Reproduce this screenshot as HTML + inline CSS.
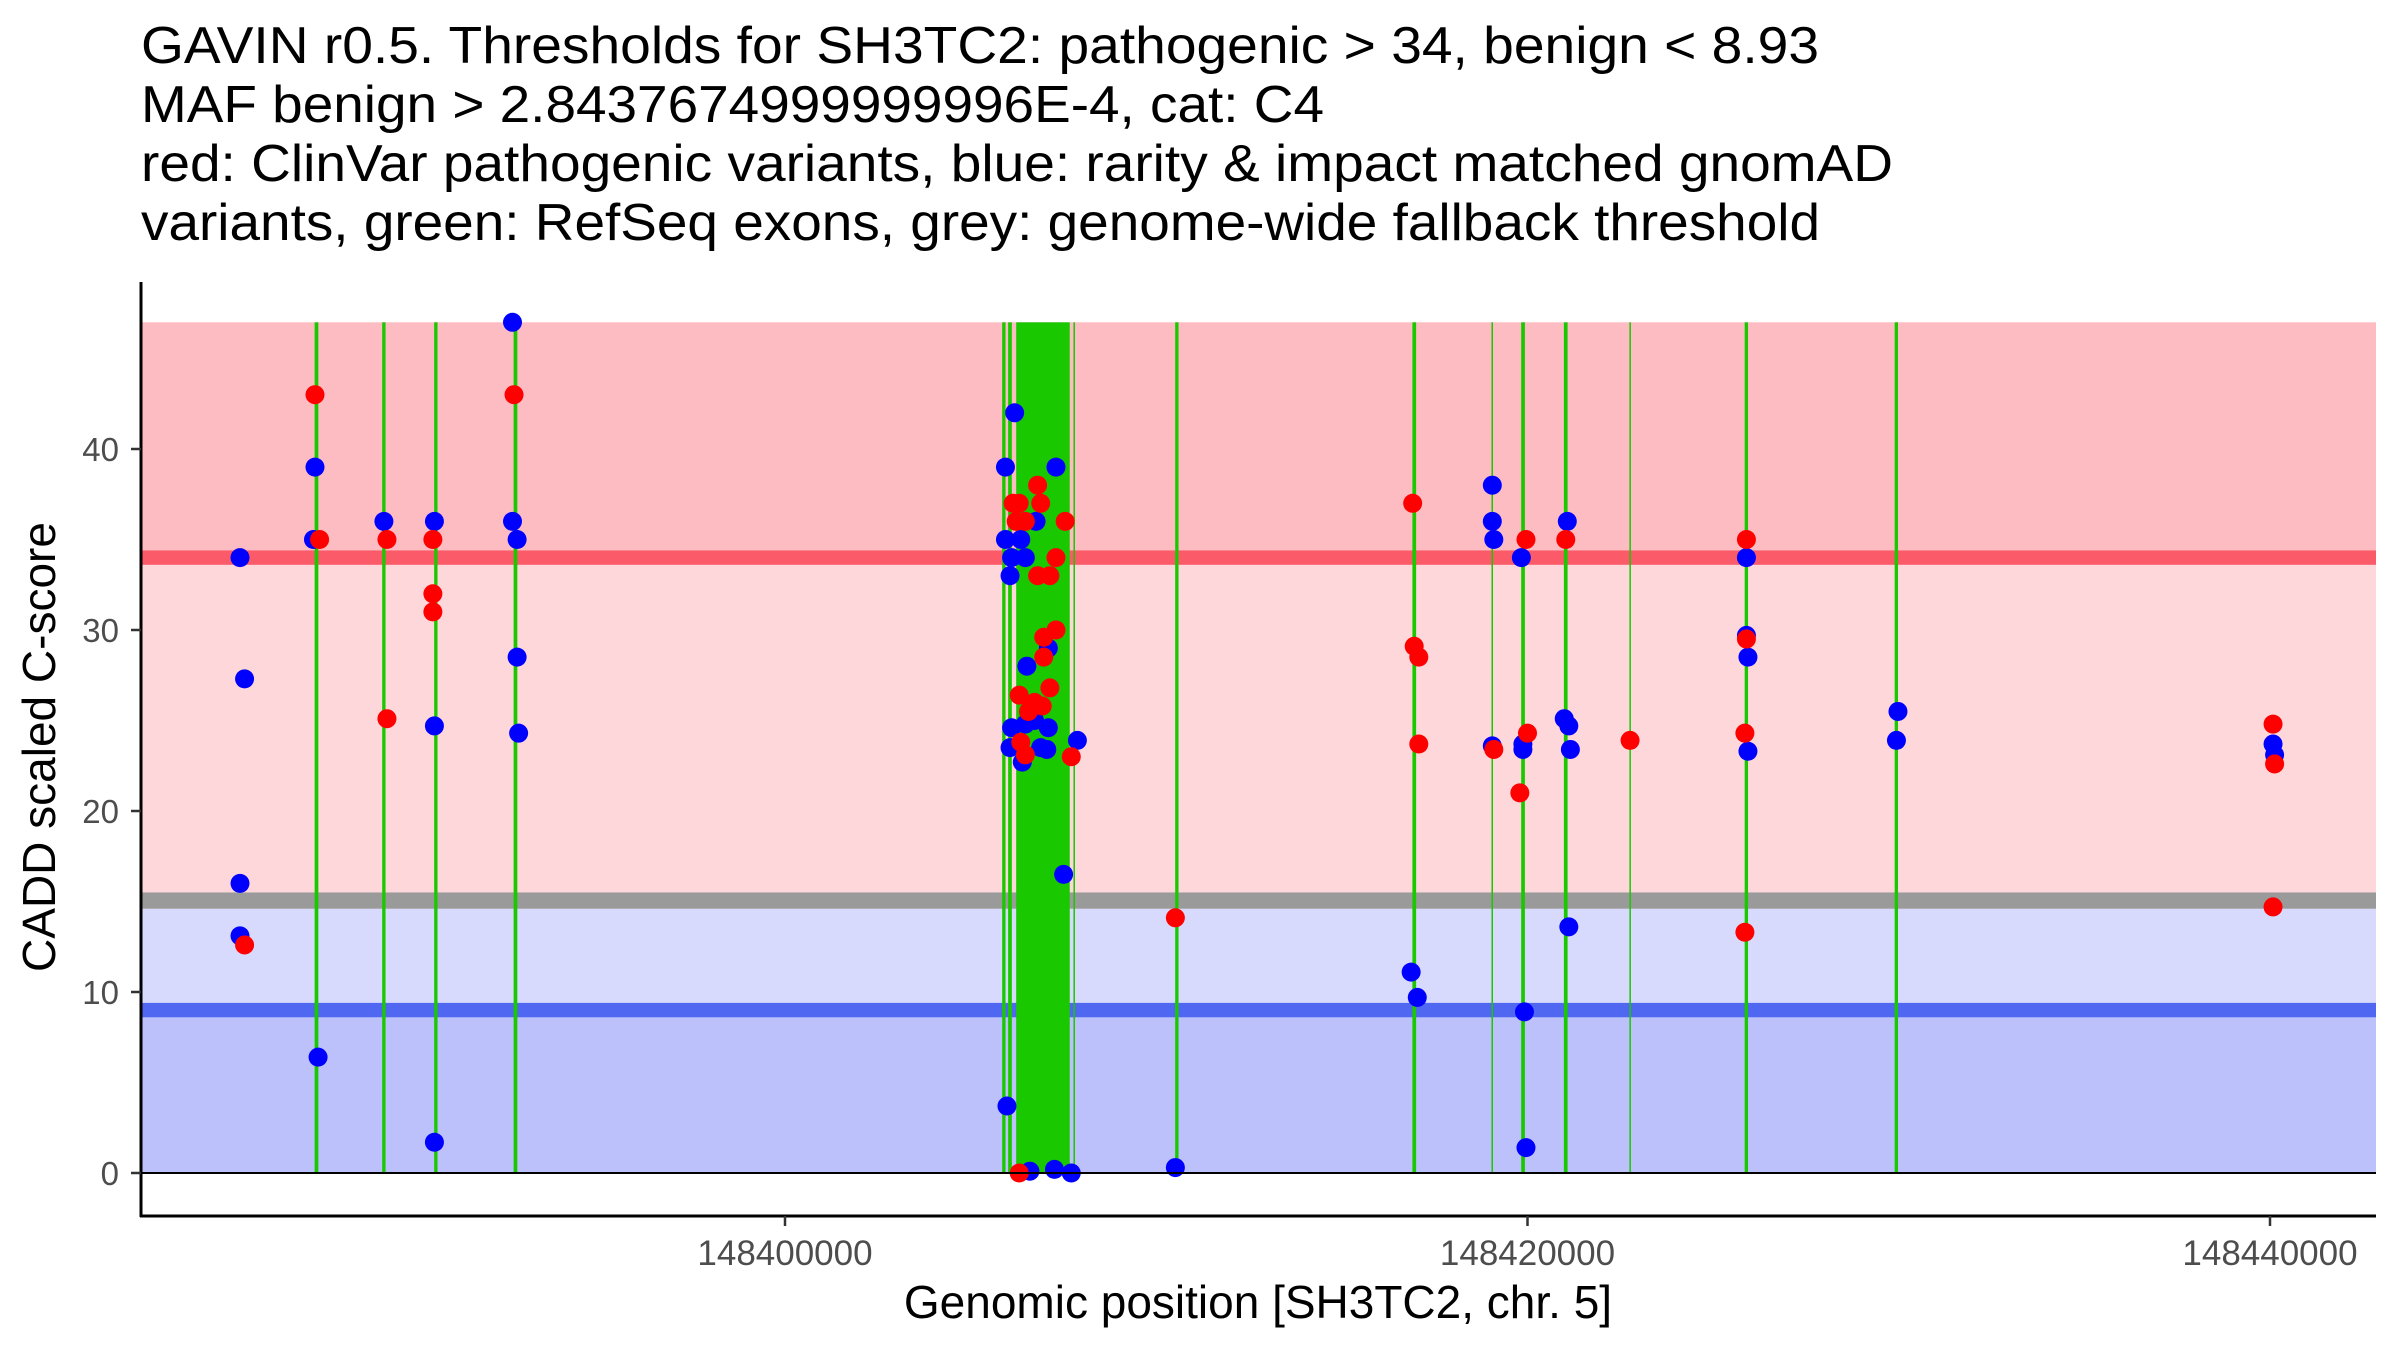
<!DOCTYPE html>
<html><head><meta charset="utf-8"><style>
html,body{margin:0;padding:0;background:#fff;}
svg{display:block;font-family:"Liberation Sans",sans-serif;}
</style></head><body>
<svg id="chart" width="2400" height="1350" viewBox="0 0 2400 1350" xmlns="http://www.w3.org/2000/svg">
<g font-size="52" fill="#000">
<text x="141" y="63" textLength="1678" lengthAdjust="spacingAndGlyphs">GAVIN r0.5. Thresholds for SH3TC2: pathogenic &gt; 34, benign &lt; 8.93</text>
<text x="141" y="122" textLength="1183" lengthAdjust="spacingAndGlyphs">MAF benign &gt; 2.8437674999999996E-4, cat: C4</text>
<text x="141" y="181" textLength="1752" lengthAdjust="spacingAndGlyphs">red: ClinVar pathogenic variants, blue: rarity &amp; impact matched gnomAD</text>
<text x="141" y="240" textLength="1679" lengthAdjust="spacingAndGlyphs">variants, green: RefSeq exons, grey: genome-wide fallback threshold</text>
</g>
<g id="bands"></g>
<g id="exons"></g>
<g id="points"></g>
<g id="axes"></g>
<text x="1258" y="1318" text-anchor="middle" font-size="46" fill="#000">Genomic position [SH3TC2, chr. 5]</text>
<text transform="translate(55,747) rotate(-90)" text-anchor="middle" font-size="46" fill="#000">CADD scaled C-score</text>
</svg>
<script>
const xTicks = [148400000, 148420000, 148440000];
const yTicks = [0, 10, 20, 30, 40];
const exonStart = [148387330,148389150,148390550,148392690,148405850,148406010,148406227,148407770,148410510,148416900,148419030,148419830,148420980,148422745,148425850,148429890];
const exonEnd   = [148387430,148389240,148390640,148392790,148405940,148406110,148407670,148407810,148410600,148417000,148419070,148419930,148421080,148422780,148425940,148429980];
const blueX = [148385320,148385443,148385320,148385320,148387340,148387299,148387423,148389196,148390557,148390557,148390557,148392660,148392660,148392784,148392784,148392825,
148405938,148406186,148405938,148406351,148406103,148406062,148406474,148407299,148406763,148406515,148407093,148406103,148406474,148406722,148406062,148406392,148406887,148407052,148407505,148407876,148405979,148406598,148407258,148407711,148407093,
148410515,148416866,148417031,148419052,148419052,148419093,148419052,148419835,148419876,148419918,148419959,148419876,
148421072,148420990,148421113,148421155,148421113,148425897,148425897,148425938,148425938,148429979,148429938,148440082,148440124];
const blueY = [34.0,27.3,16.0,13.1,39,35,6.4,36,36,24.7,1.7,47,36,35,28.5,24.3,
39,42,35,35,34,33,34,39,36,28,29,24.6,24.8,25,23.5,22.7,23.5,23.4,16.5,23.9,3.7,0.1,0.2,0,24.6,
0.3,11.1,9.7,38,36,35,23.6,34,23.4,8.9,1.4,23.7,
36,25.1,24.7,23.4,13.6,34,29.7,28.5,23.3,25.5,23.9,23.7,23.1];
const redX = [148385443,148387340,148387464,148389278,148389278,148390515,148390515,148390515,148392701,
148406804,148406144,148406309,148406887,148406227,148406474,148407546,148406804,148407134,148407299,148407299,148406969,148406969,148406309,148407134,148406722,148406928,148406557,148406351,148406474,148407711,148406309,
148410515,148416907,148416948,148417072,148417072,148419093,148419794,148419959,148420000,148421031,148422763,148425897,148425897,148425856,148425856,148440082,148440124,148440082];
const redY = [12.6,43,35,35,25.1,35,32,31,43,
38,37,37,37,36,36,36,33,33,34,30,29.6,28.5,26.4,26.8,26,25.8,25.5,23.8,23.1,23,0,
14.1,37,29.1,28.5,23.7,23.4,21,35,24.3,35,23.9,35,29.5,24.3,13.3,24.8,22.6,14.7];

const L=141, R=2376, TOP=282, BOT=1216;
function xs(p){ return 785 + (p-148400000)*742.5/20000; }
function ys(v){ return 1173 - v*18.1; }
const NS='http://www.w3.org/2000/svg';
function mk(tag, attrs, parent){ const e=document.createElementNS(NS,tag); for(const k in attrs) e.setAttribute(k,attrs[k]); parent.appendChild(e); return e; }

const bands=document.getElementById('bands');
const bandDefs=[[34.4,47,'#fdbcc1','pathogenic-band'],[15.5,33.6,'#fed7da','intermediate-band'],[9.4,14.6,'#d8dafd','low-band'],[0,8.6,'#bcc1fb','benign-band'],
[33.6,34.4,'#fb5a68','pathogenic-threshold-line'],[14.6,15.5,'#9a9a9a','fallback-threshold-line'],[8.6,9.4,'#5067f1','benign-threshold-line']];
bandDefs.forEach(b=>{
  const r=mk('rect',{x:L,y:ys(b[1]),width:R-L,height:ys(b[0])-ys(b[1]),fill:b[2]},bands);
  
  
});
const ex=document.getElementById('exons');
exonStart.forEach((s,i)=>{
  const x0=xs(s), w=Math.max(1.5, xs(exonEnd[i])-x0);
  const r=mk('rect',{x:x0,y:ys(47),width:w,height:ys(0)-ys(47),fill:'#1ac800'},ex);
  
  
});
const pts=document.getElementById('points');
blueX.forEach((p,i)=>{
  const c=mk('circle',{cx:xs(p),cy:ys(blueY[i]),r:9.5,fill:'#0000ff'},pts);
  
  
});
redX.forEach((p,i)=>{
  const c=mk('circle',{cx:xs(p),cy:ys(redY[i]),r:9.5,fill:'#ff0000'},pts);
  
  
});
const ax=document.getElementById('axes');
const zl=mk('line',{x1:L,x2:R,y1:ys(0),y2:ys(0),stroke:'#000','stroke-width':2},ax);


const xa=mk('line',{x1:L-1,x2:R,y1:BOT,y2:BOT,stroke:'#000','stroke-width':3},ax);


const ya=mk('line',{x1:L,x2:L,y1:TOP,y2:BOT+1,stroke:'#000','stroke-width':3},ax);


xTicks.forEach(t=>{
  const tk=mk('line',{x1:xs(t),x2:xs(t),y1:BOT,y2:BOT+10,stroke:'#333','stroke-width':2.5},ax);
  
  
  const tx=mk('text',{x:xs(t),y:1265,'text-anchor':'middle','font-size':35,fill:'#4d4d4d'},ax);
  tx.textContent=String(t);
  
  
});
yTicks.forEach(t=>{
  const tk=mk('line',{x1:L-10,x2:L,y1:ys(t),y2:ys(t),stroke:'#333','stroke-width':2.5},ax);
  
  
  const tx=mk('text',{x:L-22,y:ys(t)+12,'text-anchor':'end','font-size':33,fill:'#4d4d4d'},ax);
  tx.textContent=String(t);
  
  
});
</script>
</body></html>
